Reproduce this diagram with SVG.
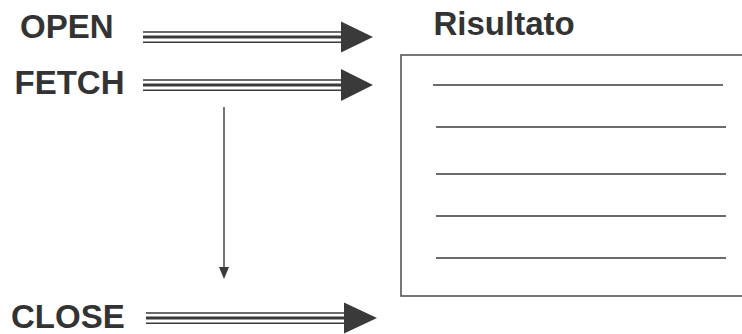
<svg xmlns="http://www.w3.org/2000/svg" width="742" height="334" viewBox="0 0 742 334">
<style>
.lbl{font-family:"Liberation Sans",Arial,sans-serif;font-weight:bold;font-size:33px;fill:#333;}
.thin{stroke:#3a3a3a;stroke-width:1.4;fill:none;}
.thick{stroke:#3a3a3a;stroke-width:2.8;fill:none;}
.head{fill:#3a3a3a;}
.row{stroke:#3a3a3a;stroke-width:1.6;}
</style>
<rect width="742" height="334" fill="#fff"/>
<g id="open"><text class="lbl" x="20" y="38">OPEN</text></g>
<g id="fetch"><text class="lbl" x="14.5" y="94">FETCH</text></g>
<g id="close"><text class="lbl" x="11" y="328">CLOSE</text></g>
<g id="risultato">
<text class="lbl" x="433.5" y="35">Risultato</text>
<rect x="401" y="55" width="400" height="241" fill="none" stroke="#555" stroke-width="1.6"/>
<line class="row" x1="433" y1="85" x2="723" y2="85"/>
<line class="row" x1="436" y1="127" x2="726" y2="127"/>
<line class="row" x1="436" y1="174" x2="726" y2="174"/>
<line class="row" x1="436" y1="216" x2="726" y2="216"/>
<line class="row" x1="436" y1="258" x2="726" y2="258"/>
</g>
<g id="connectors">
<g transform="translate(0,37)">
<line class="thin" x1="143" y1="-5" x2="342" y2="-5"/>
<line class="thick" x1="143" y1="0" x2="342" y2="0"/>
<line class="thin" x1="143" y1="5.3" x2="342" y2="5.3"/>
<polygon class="head" points="341,-15.5 373,0 341,15.5"/>
</g>
<g transform="translate(0,85)">
<line class="thin" x1="143" y1="-5" x2="342" y2="-5"/>
<line class="thick" x1="143" y1="0" x2="342" y2="0"/>
<line class="thin" x1="143" y1="5.3" x2="342" y2="5.3"/>
<polygon class="head" points="341,-16 373,0 341,16"/>
</g>
<g transform="translate(0,318)">
<line class="thin" x1="146" y1="-5" x2="345" y2="-5"/>
<line class="thick" x1="146" y1="0" x2="345" y2="0"/>
<line class="thin" x1="146" y1="5.3" x2="345" y2="5.3"/>
<polygon class="head" points="344,-15.5 377,0 344,15.5"/>
</g>
<line x1="224" y1="107" x2="224" y2="268" stroke="#3a3a3a" stroke-width="1.4"/>
<polygon class="head" points="219,267 229,267 224,279"/>
</g>
</svg>
